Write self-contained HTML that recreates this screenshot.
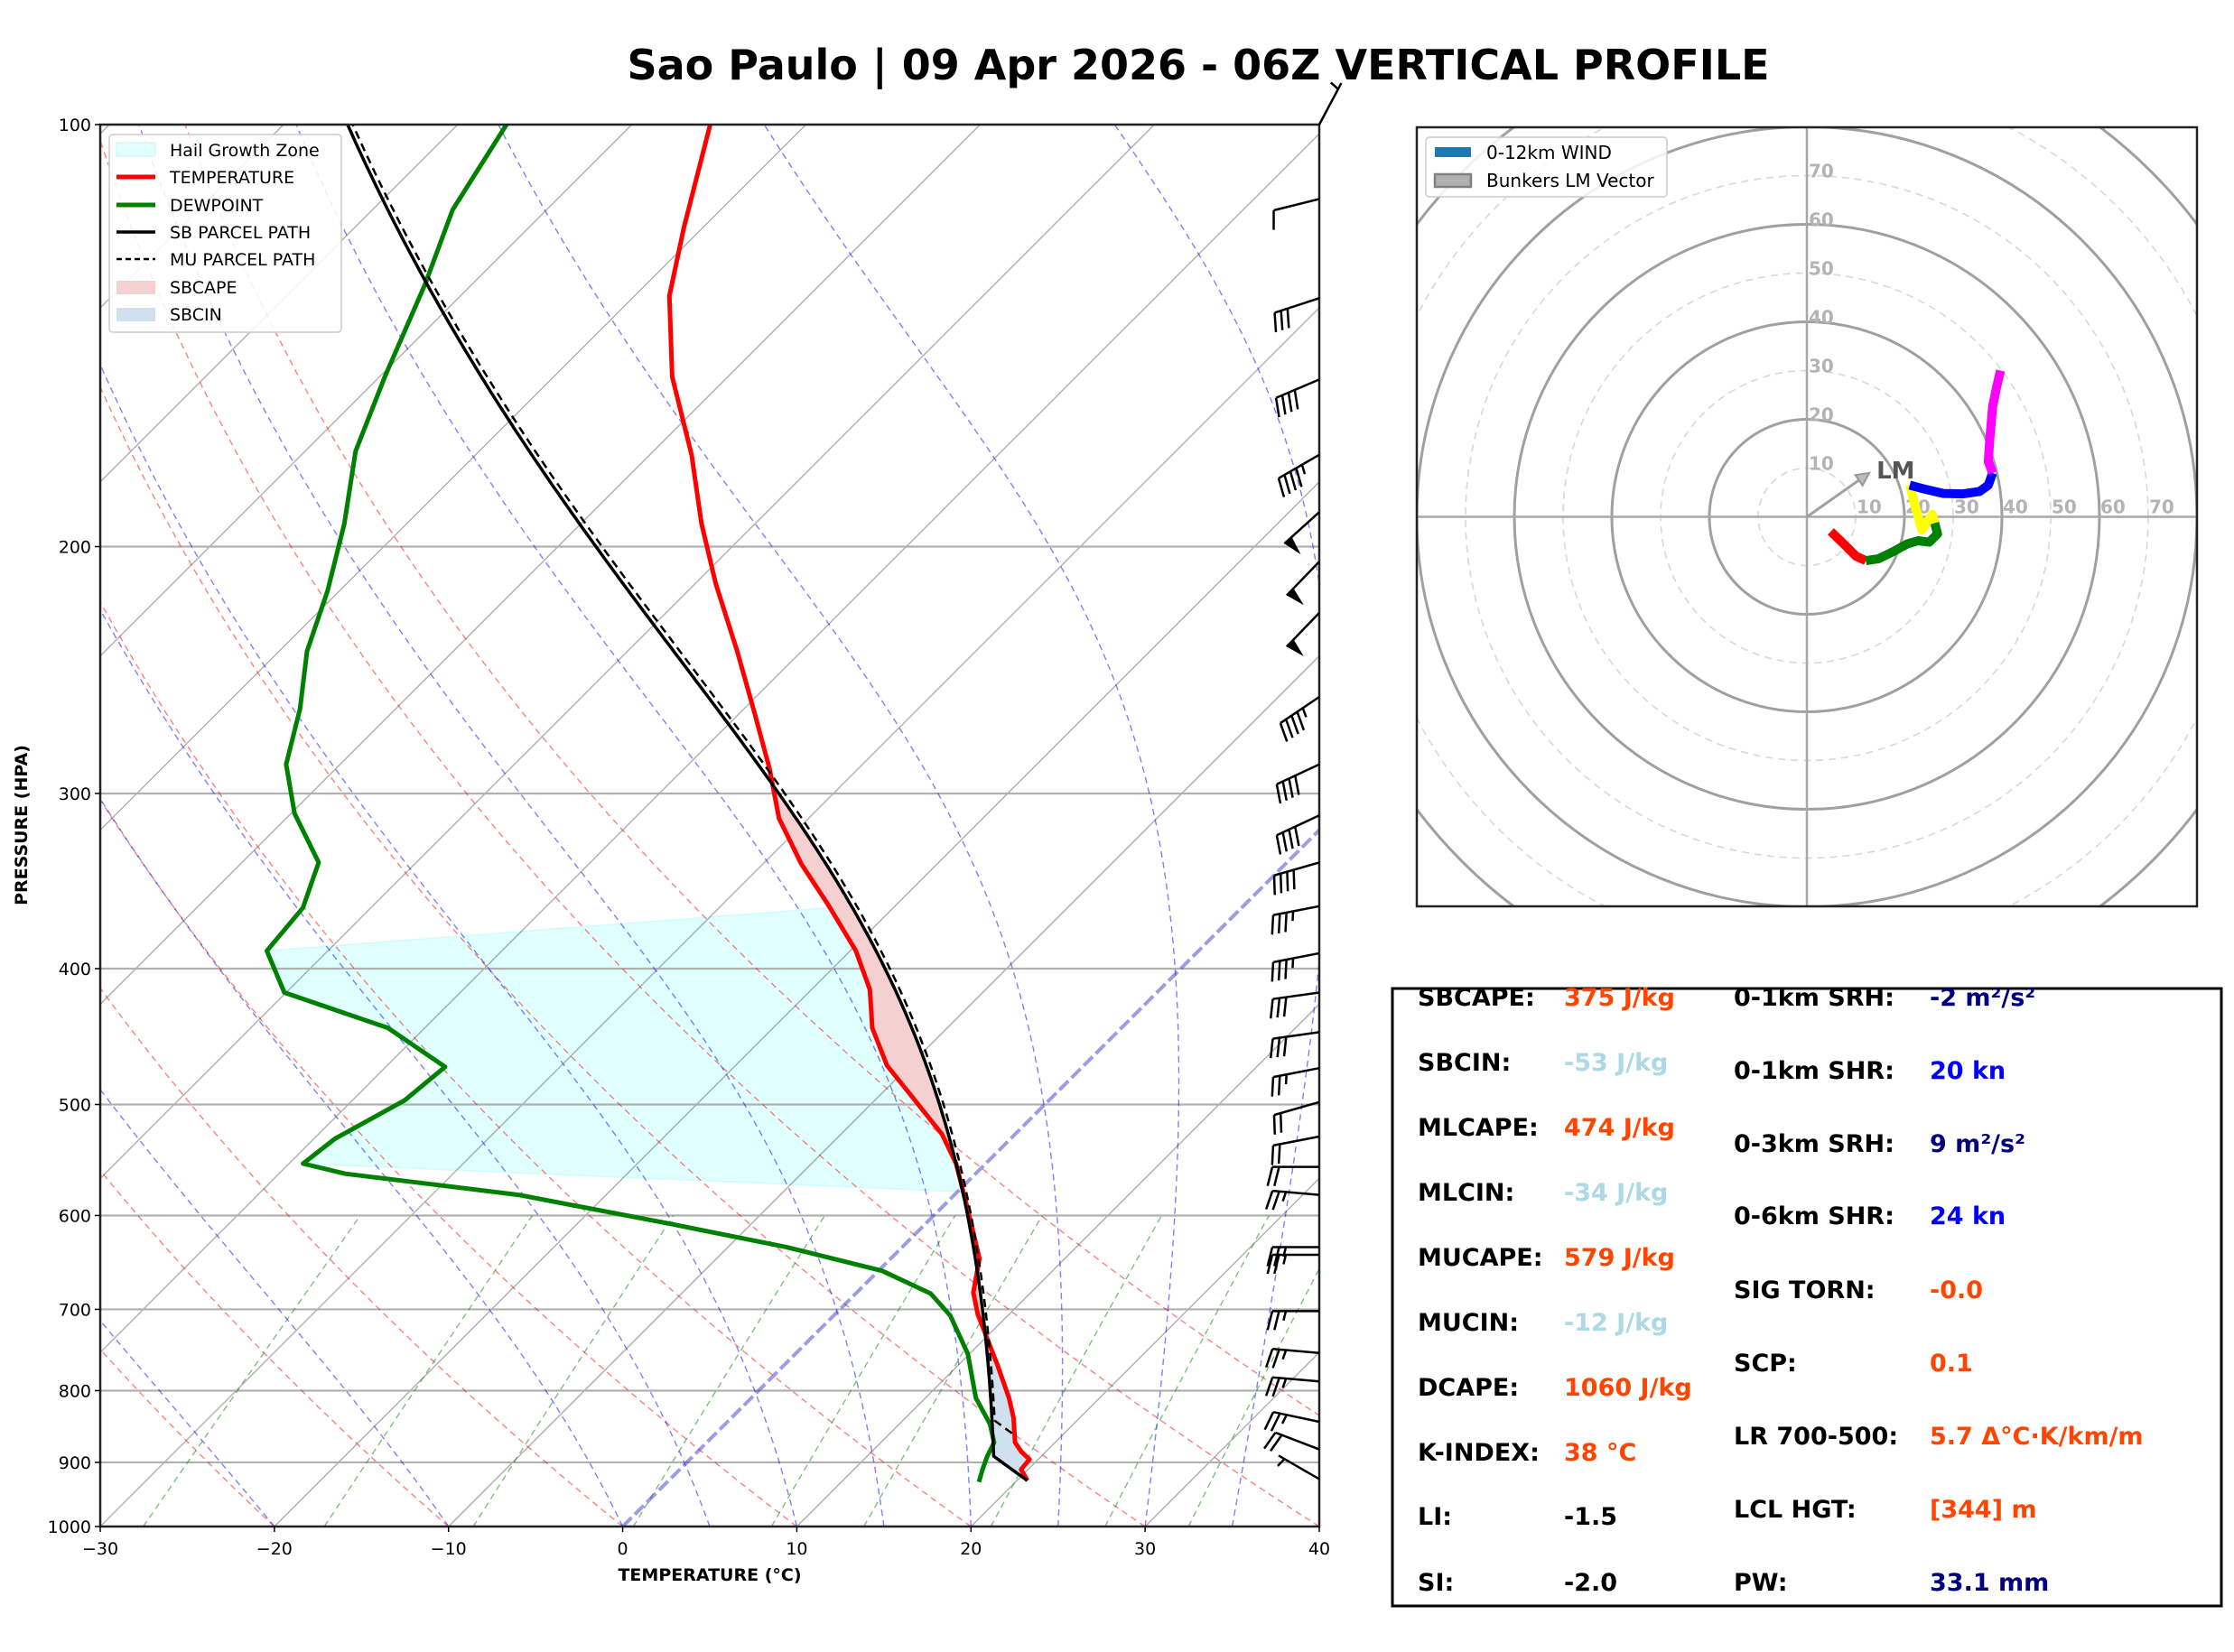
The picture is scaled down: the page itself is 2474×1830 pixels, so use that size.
<!DOCTYPE html>
<html><head><meta charset="utf-8"><title>Sao Paulo Vertical Profile</title>
<style>
html,body{margin:0;padding:0;background:#fff;}
svg{display:block;font-family:"DejaVu Sans","Liberation Sans",sans-serif;}
.tbl{font-family:"DejaVu Sans","Liberation Sans",sans-serif;font-weight:bold;font-size:27px;}
</style></head>
<body>
<svg id="s" width="2474" height="1830" viewBox="0 0 2474 1830" xmlns="http://www.w3.org/2000/svg">
<defs>
<clipPath id="skc"><rect x="111" y="138" width="1350" height="1553"/></clipPath>
<clipPath id="hdc"><rect x="1569" y="141" width="864" height="863"/></clipPath>
</defs>
<rect x="0" y="0" width="2474" height="1830" fill="#fff"/>
<text x="1327" y="88" text-anchor="middle" font-size="46" font-weight="bold" fill="#000">Sao Paulo | 09 Apr 2026 - 06Z VERTICAL PROFILE</text>

<g id="hailG" clip-path="url(#skc)"></g>
<g id="skewBg" clip-path="url(#skc)"></g>
<g id="skewData" clip-path="url(#skc)"></g>
<rect x="111" y="138" width="1350" height="1553" fill="none" stroke="#222" stroke-width="2.5"/>
<g id="skewAxes"></g>
<g id="barbs"></g>
<text x="786" y="1751" text-anchor="middle" font-size="19" font-weight="bold">TEMPERATURE (°C)</text>
<text transform="translate(30,914) rotate(-90)" text-anchor="middle" font-size="19" font-weight="bold">PRESSURE (HPA)</text>

<g>
<rect x="121" y="149" width="257" height="219" rx="4" fill="#fff" fill-opacity="0.85" stroke="#ccc" stroke-width="1.5"/>
<rect x="129" y="158" width="43" height="15" fill="#e0ffff" stroke="#c8f4f4"/>
<text x="188" y="173" font-size="19">Hail Growth Zone</text>
<line x1="129" y1="196" x2="172" y2="196" stroke="#ff0000" stroke-width="5"/>
<text x="188" y="203" font-size="19">TEMPERATURE</text>
<line x1="129" y1="227" x2="172" y2="227" stroke="#008000" stroke-width="5"/>
<text x="188" y="234" font-size="19">DEWPOINT</text>
<line x1="129" y1="257" x2="172" y2="257" stroke="#000" stroke-width="3.5"/>
<text x="188" y="264" font-size="19">SB PARCEL PATH</text>
<line x1="129" y1="287" x2="172" y2="287" stroke="#000" stroke-width="2.5" stroke-dasharray="6 4"/>
<text x="188" y="294" font-size="19">MU PARCEL PATH</text>
<rect x="129" y="311" width="43" height="15" fill="#f5d0d0"/>
<text x="188" y="325" font-size="19">SBCAPE</text>
<rect x="129" y="341" width="43" height="15" fill="#d0e0ee"/>
<text x="188" y="355" font-size="19">SBCIN</text>
</g>

<g id="hodoBg" clip-path="url(#hdc)"></g>
<g id="hodoData" clip-path="url(#hdc)"></g>
<rect x="1569" y="141" width="864" height="863" fill="none" stroke="#222" stroke-width="2.5"/>
<g>
<rect x="1579" y="152" width="267" height="66" rx="4" fill="#fff" fill-opacity="0.85" stroke="#ccc" stroke-width="1.5"/>
<rect x="1589" y="163" width="40" height="11" fill="#1f77b4"/>
<text x="1646" y="176" font-size="20">0-12km WIND</text>
<rect x="1589" y="193" width="40" height="14" fill="#b0b0b0" stroke="#808080" stroke-width="2.5"/>
<text x="1646" y="207" font-size="20">Bunkers LM Vector</text>
</g>

<g class="tbl">
<rect x="1542" y="1095" width="918" height="684" fill="none" stroke="#000" stroke-width="3"/>
<text x="1570" y="1114" fill="#000">SBCAPE:</text>
<text x="1732" y="1114" fill="#ff4500">375 J/kg</text>
<text x="1570" y="1186" fill="#000">SBCIN:</text>
<text x="1732" y="1186" fill="#add8e6">-53 J/kg</text>
<text x="1570" y="1258" fill="#000">MLCAPE:</text>
<text x="1732" y="1258" fill="#ff4500">474 J/kg</text>
<text x="1570" y="1330" fill="#000">MLCIN:</text>
<text x="1732" y="1330" fill="#add8e6">-34 J/kg</text>
<text x="1570" y="1402" fill="#000">MUCAPE:</text>
<text x="1732" y="1402" fill="#ff4500">579 J/kg</text>
<text x="1570" y="1474" fill="#000">MUCIN:</text>
<text x="1732" y="1474" fill="#add8e6">-12 J/kg</text>
<text x="1570" y="1546" fill="#000">DCAPE:</text>
<text x="1732" y="1546" fill="#ff4500">1060 J/kg</text>
<text x="1570" y="1618" fill="#000">K-INDEX:</text>
<text x="1732" y="1618" fill="#ff4500">38 °C</text>
<text x="1570" y="1689" fill="#000">LI:</text>
<text x="1732" y="1689" fill="#000">-1.5</text>
<text x="1570" y="1762" fill="#000">SI:</text>
<text x="1732" y="1762" fill="#000">-2.0</text>
<text x="1920" y="1114" fill="#000">0-1km SRH:</text>
<text x="2137" y="1114" fill="#000080">-2 m²/s²</text>
<text x="1920" y="1195" fill="#000">0-1km SHR:</text>
<text x="2137" y="1195" fill="#0000ff">20 kn</text>
<text x="1920" y="1276" fill="#000">0-3km SRH:</text>
<text x="2137" y="1276" fill="#000080">9 m²/s²</text>
<text x="1920" y="1356" fill="#000">0-6km SHR:</text>
<text x="2137" y="1356" fill="#0000ff">24 kn</text>
<text x="1920" y="1438" fill="#000">SIG TORN:</text>
<text x="2137" y="1438" fill="#ff4500">-0.0</text>
<text x="1920" y="1519" fill="#000">SCP:</text>
<text x="2137" y="1519" fill="#ff4500">0.1</text>
<text x="1920" y="1600" fill="#000">LR 700-500:</text>
<text x="2137" y="1600" fill="#ff4500">5.7 Δ°C·K/km/m</text>
<text x="1920" y="1681" fill="#000">LCL HGT:</text>
<text x="2137" y="1681" fill="#ff4500">[344] m</text>
<text x="1920" y="1762" fill="#000">PW:</text>
<text x="2137" y="1762" fill="#000080">33.1 mm</text>
</g>
</svg>

<script>
// ---------- DATA ----------
const tempP = [927.3,910.5,895.5,884.5,871,836.5,809.7,766.3,705.7,681,644,594,551,525,495,469,441,414,388.3,359.6,336.8,312.5,288,262,237.5,212.6,192.5,172,151.3,132.5,118.4,100];
const tempT = [20.6,19.6,19.5,18.6,17.7,16.2,14.8,12.2,8.2,6.7,5.1,1.6,-1.7,-4.2,-7.9,-11.3,-14.3,-16.65,-19.7,-24,-27.8,-31.7,-35.1,-39.3,-43.7,-48.8,-53.1,-57.6,-63.2,-68,-71.1,-75.5];
const dewP = [929.5,911,891,871,845,809.7,753,707.3,682,657,631.8,608.3,580,560.2,551,529,496.6,470,441,416,388.5,362,336,310,286,261,237.5,215,192.5,171,151.3,130,115,100];
const dewT = [17.9,17.4,16.9,16.5,15.2,12.9,9.9,6.7,4.3,0.2,-6.7,-14.65,-25.04,-36.2,-39.2,-38.8,-37,-36.6,-42.1,-50.1,-53.5,-53.9,-55.6,-59.8,-63.1,-65.5,-68.4,-70.7,-73.6,-77.1,-79.7,-82.7,-85.4,-87.2];
const sbStart = [927.3, 20.6, 17.9];
const muStart = [858, 17.0, 15.6];
const hailTopLeftP = 388.5, hailBotLeftP = 551;
const hailTopRightP = 362, hailBotRightP = 577;
const pTicks = [100,200,300,400,500,600,700,800,900,1000];
const tTicks = [-30,-20,-10,0,10,20,30,40];
const dryT0 = [-30,-20,-10,0,10,20,30,40,50];
const moistT0 = [-40,-30,-20,-10,0,5,10,15,20,25,30,35,40];
const mixW = [0.0004,0.001,0.002,0.004,0.007,0.01,0.016,0.024,0.032];
const barbP = [100,113,133,152,172,189,205,223,256,286,311,336,361,390,416,444,471,498,527,554,580,632,640,702,752,788,842,881,925];
const barbSpd = [5,10,30,40,45,50,50,50,45,40,40,40,35,35,30,30,25,20,20,20,25,25,25,25,25,25,25,20,5];
const barbDir = [28,256,252,247,240,228,224,224,236,245,245,254,259,259,262,262,259,254,259,270,275,270,270,270,275,275,282,291,300];
const hodoU = [4.9,7.8,10.1,12.1,14.7,17.6,20.5,22.8,25.1,26.8,26.2,25.7,23.6,22.2,21.1,24.5,28,32,35.4,37.2,38.1,37.2,37.5,38.1,38.9,39.7];
const hodoV = [-3,-5.8,-8.1,-9,-8.6,-7.2,-5.6,-4.9,-5.2,-3.5,-1.25,0.5,-2.7,2.2,6.5,5.6,4.8,4.7,5.2,6.5,9.0,11.3,15.8,22.6,26.6,30];
const hodoSegStart = [0,3,10,14,20];
const hodoSegEnd = [3,10,14,20,25];
const hodoColors = ['#ff0000','#008000','#ffff00','#0000ff','#ff00ff'];
const lmVec = [12.8, 9.0];
const hodoRings = [10,20,30,40,50,60,70,80,90,100];
const hodoLabels = [10,20,30,40,50,60,70];

// ---------- GEOMETRY ----------
const NS = 'http://www.w3.org/2000/svg';
const X0 = 111, Y0 = 138, W = 1350, H = 1553, YB = 1691, DEG = 1350/70;
function yP(p){ return Y0 + H*Math.log10(p/100); }
function xT(T,p){ return X0 + (T+30)*DEG + (YB - yP(p)); }
function mk(tag,parent){ const e=document.createElementNS(NS,tag); parent.appendChild(e); return e; }
function setA(e,o){ for(const k in o) e.setAttribute(k,o[k]); }
function pathTP(pts){ return pts.map((q,i)=>(i?'L':'M')+xT(q[1],q[0]).toFixed(1)+','+yP(q[0]).toFixed(1)).join(''); }

// ---------- THERMO ----------
const Rd=287.04, Cp=1005.7, Lv=2.501e6, EPS=0.622, KAP=Rd/Cp;
function es(Tc){ return 6.112*Math.exp(17.67*Tc/(Tc+243.5)); }
function mixR(Tc,p){ const e=es(Tc); return EPS*e/(p-e); }
function tdFromW(w,p){ const e=w*p/(EPS+w); const l=Math.log(e/6.112); return 243.5*l/(17.67-l); }
function dryT(T0,p0,p){ return (T0+273.15)*Math.pow(p/p0,KAP)-273.15; }
function dTdp(p,T){ const e=es(T-273.15); const rs=EPS*e/(p-e); return (Rd*T+Lv*rs)/(p*(Cp+Lv*Lv*rs*EPS/(Rd*T*T))); }
function moist(T0,p0,pEnd){
  const out=[[p0,T0]]; let T=T0+273.15, p=p0; const h=-2;
  while(p>pEnd){
    const hh=Math.max(h,pEnd-p);
    const k1=dTdp(p,T), k2=dTdp(p+hh/2,T+hh/2*k1), k3=dTdp(p+hh/2,T+hh/2*k2), k4=dTdp(p+hh,T+hh*k3);
    T+=hh/6*(k1+2*k2+2*k3+k4); p+=hh; out.push([p,T-273.15]);
  }
  return out;
}
function lcl(p0,T0,Td0){
  const w=mixR(Td0,p0); let lo=p0*0.4, hi=p0;
  for(let i=0;i<60;i++){ const m=(lo+hi)/2; if(dryT(T0,p0,m)-tdFromW(w,m)>0) hi=m; else lo=m; }
  return (lo+hi)/2;
}
function parcel(p0,T0,Td0){
  const pl=lcl(p0,T0,Td0); const pts=[];
  for(let p=p0;p>pl;p-=2) pts.push([p,dryT(T0,p0,p)]);
  const Tl=dryT(T0,p0,pl); pts.push([pl,Tl]);
  return pts.concat(moist(Tl,pl,100).slice(1));
}
function interpEnv(P,T,p){
  for(let i=0;i<P.length-1;i++){
    if(p<=P[i] && p>=P[i+1]){ const f=(Math.log(P[i])-Math.log(p))/(Math.log(P[i])-Math.log(P[i+1])); return T[i]+f*(T[i+1]-T[i]); }
  }
  return p>P[0]?T[0]:T[T.length-1];
}
function interpPts(pts,p){
  for(let i=0;i<pts.length-1;i++){ if(p<=pts[i][0]&&p>=pts[i+1][0]){ const f=(pts[i][0]-p)/(pts[i][0]-pts[i+1][0]); return pts[i][1]+f*(pts[i+1][1]-pts[i][1]); } }
  return pts[pts.length-1][1];
}

// ---------- HAIL ZONE ----------
{
  const hg=document.getElementById('hailG');
  const right=[[hailTopRightP,interpEnv(tempP,tempT,hailTopRightP)]];
  for(let i=0;i<tempP.length;i++){ if(tempP[i]<hailBotRightP && tempP[i]>hailTopRightP) right.push([tempP[i],tempT[i]]); }
  right.sort((a,b)=>a[0]-b[0]);
  right.push([hailBotRightP,interpEnv(tempP,tempT,hailBotRightP)]);
  const left=[];
  for(let i=0;i<dewP.length;i++){ if(dewP[i]<=hailBotLeftP && dewP[i]>=hailTopLeftP) left.push([dewP[i],dewT[i]]); }
  const e=mk('path',hg);
  setA(e,{d:pathTP(right.concat(left))+'Z',fill:'#e0ffff',stroke:'#d2fbfb','stroke-width':1.5});
  
  
}

// ---------- BACKGROUND ----------
const bg=document.getElementById('skewBg');
for(let T=-170;T<=40;T+=10){
  if(T===0) continue;
  const l=mk('line',bg);
  setA(l,{x1:xT(T,1050),y1:yP(1050),x2:xT(T,100),y2:yP(100),stroke:'#000','stroke-opacity':0.3,'stroke-width':1.5});
  
  
}
pTicks.forEach(p=>{
  const l=mk('line',bg);
  setA(l,{x1:X0,y1:yP(p),x2:X0+W,y2:yP(p),stroke:'#b0b0b0','stroke-width':2.2});
  
  
});
dryT0.forEach(t0=>{
  const pts=[]; for(let p=1000;p>=100;p-=10) pts.push([p,dryT(t0,1000,p)]);
  const e=mk('path',bg);
  setA(e,{d:pathTP(pts),fill:'none',stroke:'#ff0000','stroke-opacity':0.5,'stroke-width':1.4,'stroke-dasharray':'7 5'});
  
  
});
moistT0.forEach(t0=>{
  const pts=moist(t0,1000,100);
  const e=mk('path',bg);
  setA(e,{d:pathTP(pts),fill:'none',stroke:'#0000ff','stroke-opacity':0.5,'stroke-width':1.4,'stroke-dasharray':'7 5'});
  
  
});
mixW.forEach(w=>{
  const pts=[]; for(let p=1000;p>=600;p-=10) pts.push([p,tdFromW(w,p)]);
  const e=mk('path',bg);
  setA(e,{d:pathTP(pts),fill:'none',stroke:'#008000','stroke-opacity':0.5,'stroke-width':1.4,'stroke-dasharray':'7 5'});
  
  
});
{
  const l=mk('line',bg);
  setA(l,{x1:xT(0,1000),y1:yP(1000),x2:xT(0,100),y2:yP(100),stroke:'#3a3ad0','stroke-opacity':0.5,'stroke-width':4,'stroke-dasharray':'14 5'});
  
  
}

// ---------- DATA LAYER ----------
const dg=document.getElementById('skewData');
const sbPath=parcel(sbStart[0],sbStart[1],sbStart[2]);
const muPath=parcel(muStart[0],muStart[1],muStart[2]);
const pLcl=lcl(sbStart[0],sbStart[1],sbStart[2]);
let pLFC=null,pEL=null;
{
  let prev=null;
  for(let p=Math.floor(pLcl);p>=100;p-=1){
    const d=interpPts(sbPath,p)-interpEnv(tempP,tempT,p);
    if(prev!==null){
      if(prev<=0&&d>0&&pLFC===null) pLFC=p;
      if(prev>0&&d<=0&&pLFC!==null) pEL=p;
    }
    prev=d;
  }
  if(pLFC===null) pLFC=pLcl;
  if(pEL===null) pEL=100;
}
function shade(pHi,pLo,cond,color,name){
  let seg=[];
  const flush=()=>{
    if(seg.length>1){
      const a=seg.map(q=>[q[0],q[1]]), b=seg.map(q=>[q[0],q[2]]).reverse();
      const e=mk('path',dg);
      setA(e,{d:pathTP(a.concat(b))+'Z',fill:color,stroke:'none'});
      
      
    }
    seg=[];
  };
  for(let p=pHi;p>=pLo;p-=0.5){
    const tp=interpPts(sbPath,p), te=interpEnv(tempP,tempT,p);
    if(cond(tp,te)) seg.push([p,tp,te]); else flush();
  }
  flush();
}
shade(pLFC,pEL,(a,b)=>a>b,'#f5d0d0','sbcape-shading');
shade(sbStart[0],pLFC,(a,b)=>a<b,'#d0e0ee','sbcin-shading');

function drawLine(pts,stroke,w,dash,name){
  const e=mk('path',dg);
  setA(e,{d:pathTP(pts),fill:'none',stroke:stroke,'stroke-width':w,'stroke-linejoin':'round'});
  if(dash) e.setAttribute('stroke-dasharray',dash);
  
  
}
drawLine(tempP.map((p,i)=>[p,tempT[i]]),'#ff0000',5,null,'temperature-line');
drawLine(dewP.map((p,i)=>[p,dewT[i]]),'#008000',5,null,'dewpoint-line');
drawLine(sbPath,'#000',3.5,null,'sb-parcel-path');
drawLine(muPath,'#000',2.5,'9 6','mu-parcel-path');

// ---------- AXES ----------
const ax=document.getElementById('skewAxes');
pTicks.forEach(p=>{
  const t=mk('line',ax);
  setA(t,{x1:X0-6,y1:yP(p),x2:X0,y2:yP(p),stroke:'#000','stroke-width':1.5});
  
  
  const tx=mk('text',ax);
  setA(tx,{x:X0-10,y:yP(p)+7,'text-anchor':'end','font-size':19});
  tx.textContent=String(p);
  
  
});
tTicks.forEach(T=>{
  const x=X0+(T+30)*DEG;
  const t=mk('line',ax);
  setA(t,{x1:x,y1:YB,x2:x,y2:YB+6,stroke:'#000','stroke-width':1.5});
  
  
  const tx=mk('text',ax);
  setA(tx,{x:x,y:YB+31,'text-anchor':'middle','font-size':19});
  tx.textContent=(T<0?'\u2212'+(-T):String(T));
  
  
});

// ---------- WIND BARBS ----------
const bb=document.getElementById('barbs');
const BL=52, FH=21, FS=7.5, FW=11;
barbP.forEach((p,i)=>{
  const ax0=X0+W, ay0=yP(p);
  const th=barbDir[i]*Math.PI/180;
  const dx=Math.sin(th), dy=-Math.cos(th);
  const nx=dy, ny=-dx;
  const g=mk('g',bb);
  
  
  const tx=ax0+dx*BL, ty=ay0+dy*BL;
  const st=mk('line',g);
  setA(st,{x1:ax0,y1:ay0,x2:tx,y2:ty,stroke:'#000','stroke-width':2.5});
  
  
  let spd=Math.round(barbSpd[i]/5)*5;
  const flags=Math.floor(spd/50); spd-=flags*50;
  const fulls=Math.floor(spd/10); spd-=fulls*10;
  const halfs=spd>=5?1:0;
  let s=BL;
  for(let k=0;k<flags;k++){
    const px=ax0+dx*s, py=ay0+dy*s;
    const qx=ax0+dx*(s-FW), qy=ay0+dy*(s-FW);
    const ex=ax0+dx*(s-FW/2)+nx*FH, ey=ay0+dy*(s-FW/2)+ny*FH;
    const f=mk('polygon',g);
    setA(f,{points:`${px},${py} ${qx},${qy} ${ex},${ey}`,fill:'#000'});
    
    
    s-=FW+2;
  }
  if(flags===0 && fulls===0 && halfs) s-=FS;
  for(let k=0;k<fulls+halfs;k++){
    const h=k<fulls?FH:FH/2;
    const px=ax0+dx*s, py=ay0+dy*s;
    const ex=px+nx*h+dx*h*0.25, ey=py+ny*h+dy*h*0.25;
    const f=mk('line',g);
    setA(f,{x1:px,y1:py,x2:ex,y2:ey,stroke:'#000','stroke-width':2.5});
    
    
    s-=FS;
  }
});

// ---------- HODOGRAPH ----------
const CX=2001, CY=572.5, SC=5.4;
const hb=document.getElementById('hodoBg');
hodoRings.forEach(r=>{
  const c=mk('circle',hb);
  const solid=(r%20===0);
  setA(c,{cx:CX,cy:CY,r:r*SC,fill:'none',stroke:solid?'#a0a0a0':'#d8d8d8','stroke-width':solid?3:1.6});
  if(!solid) c.setAttribute('stroke-dasharray','8 6');
  
  
});
{
  const h=mk('line',hb);
  setA(h,{x1:1569,y1:CY,x2:2433,y2:CY,stroke:'#a8a8a8','stroke-width':2.5});
  
  
  const v=mk('line',hb);
  setA(v,{x1:CX,y1:141,x2:CX,y2:1004,stroke:'#a8a8a8','stroke-width':2.5});
  
  
}
hodoLabels.forEach(r=>{
  const a=mk('text',hb);
  setA(a,{x:CX+r*SC+1,y:CY-4,'font-size':20,'font-weight':'bold',fill:'#b4b4b4'});
  a.textContent=String(r);
  
  
  const b=mk('text',hb);
  setA(b,{x:CX+2,y:CY-r*SC+2,'font-size':20,'font-weight':'bold',fill:'#b4b4b4'});
  b.textContent=String(r);
  
  
});
const hd=document.getElementById('hodoData');
hodoSegStart.forEach((s0,k)=>{
  let d='';
  for(let i=s0;i<=hodoSegEnd[k];i++) d+=(i===s0?'M':'L')+(CX+hodoU[i]*SC).toFixed(1)+','+(CY-hodoV[i]*SC).toFixed(1);
  const e=mk('path',hd);
  setA(e,{d:d,fill:'none',stroke:hodoColors[k],'stroke-width':10,'stroke-linejoin':'round'});
  
  
});
{
  const ex=CX+lmVec[0]*SC, ey=CY-lmVec[1]*SC;
  const ang=Math.atan2(ey-CY,ex-CX);
  const l=mk('line',hd);
  setA(l,{x1:CX,y1:CY,x2:ex-Math.cos(ang)*10,y2:ey-Math.sin(ang)*10,stroke:'#a0a0a0','stroke-width':3});
  
  
  const hx=ex-Math.cos(ang)*14, hy=ey-Math.sin(ang)*14;
  const px=-Math.sin(ang)*7, py=Math.cos(ang)*7;
  const hp=mk('polygon',hd);
  setA(hp,{points:`${ex},${ey} ${hx+px},${hy+py} ${hx-px},${hy-py}`,fill:'#bdbdbd',stroke:'#999','stroke-width':2});
  
  
  const t=mk('text',hd);
  setA(t,{x:ex+8,y:ey+6,'font-size':26,'font-weight':'bold',fill:'#555'});
  t.textContent='LM';
  
  
}
</script>
</body></html>
